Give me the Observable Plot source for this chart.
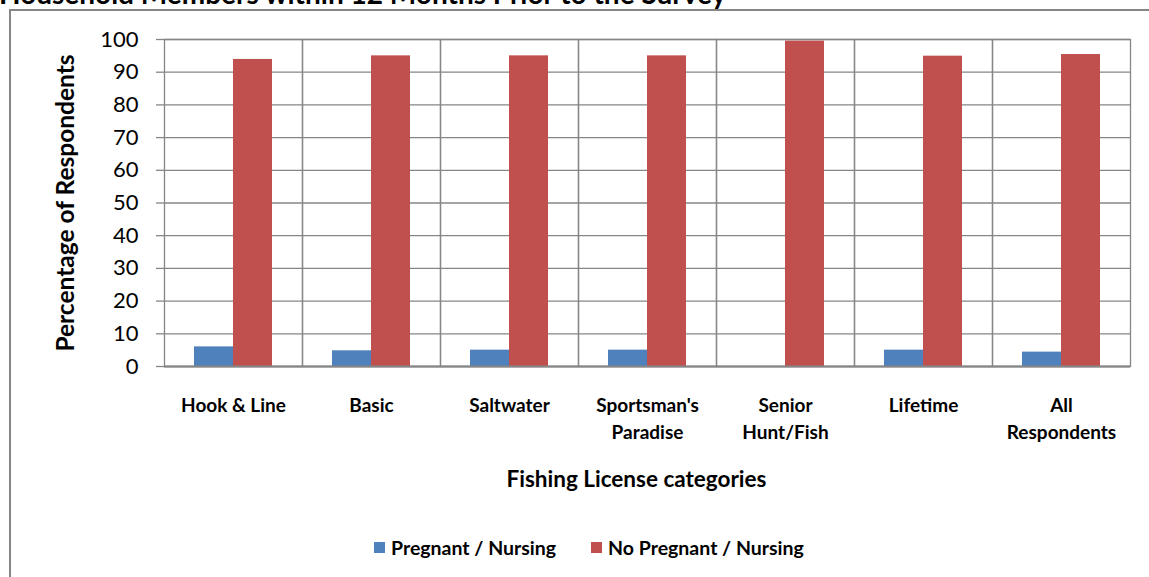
<!DOCTYPE html>
<html>
<head>
<meta charset="utf-8">
<script src="https://cdn.jsdelivr.net/npm/d3@7"></script>
<script src="https://cdn.jsdelivr.net/npm/@observablehq/plot@0.6"></script>
<style>
  html, body { margin: 0; padding: 0; background: #fff; }
  #wrap { position: relative; width: 1149px; height: 577px; overflow: hidden; background: #fff; font-family: Lato, "Open Sans", sans-serif; }
  #title { position: absolute; left: -1px; top: -24px; font-size: 28px; font-weight: bold; color: #000; white-space: nowrap; }
  #border { position: absolute; left: 9px; top: 9px; width: 1160px; height: 620px; border: 2px solid #868686; box-sizing: border-box; }
  #chart { position: absolute; left: 0; top: 0; }
  #legend { position: absolute; left: 374px; top: 531px; }
  .lg-swatch { margin-right: 35px !important; }
  .lg-swatch > svg { margin-right: 6px !important; }
</style>
</head>
<body>
<div id="wrap">
  <div id="title">Household Members within 12 Months Prior to the Survey</div>
  <div id="border"></div>
  <div id="chart"></div>
  <div id="legend"></div>
</div>
<script>
const categories = ["Hook & Line", "Basic", "Saltwater", "Sportsman's\nParadise", "Senior\nHunt/Fish", "Lifetime", "All\nRespondents"];
const series = ["Pregnant / Nursing", "No Pregnant / Nursing"];
const pregnant = [6.0, 4.8, 5.0, 5.0, 0, 5.0, 4.4];
const notPregnant = [93.9, 95.0, 95.0, 95.0, 99.5, 94.9, 95.4];
const yTicks = [0, 10, 20, 30, 40, 50, 60, 70, 80, 90, 100];
const colors = ["#4F81BD", "#C0504D"];
const yLabel = "Percentage of Respondents";
const xLabel = "Fishing License categories";

const data = categories.flatMap((c, i) => [
  {category: c, series: series[0], value: pregnant[i]},
  {category: c, series: series[1], value: notPregnant[i]}
]);

const grid = "#868686";

const chart = Plot.plot({
  width: 1149,
  height: 500,
  marginTop: 39,
  marginBottom: 134,
  marginLeft: 161,
  marginRight: 16,
  style: {fontFamily: "Lato, 'Open Sans', sans-serif", background: "transparent", color: "#000", overflow: "visible"},
  fx: {domain: categories, padding: 0, label: null},
  x: {domain: series, paddingInner: 0, paddingOuter: 0.76, axis: null},
  y: {domain: [0, 100], label: null},
  color: {domain: series, range: colors},
  marks: [
    Plot.gridY(yTicks, {stroke: grid, strokeOpacity: 1, strokeWidth: 1.3}),
    Plot.frame({stroke: grid, strokeWidth: 1.3}),
    Plot.barY(data, {fx: "category", x: "series", y: "value", fill: "series"}),
    Plot.ruleY([0], {stroke: grid, strokeWidth: 2}),
    Plot.axisY(yTicks, {tickSize: 8, tickPadding: 18, stroke: grid, strokeOpacity: 1, strokeWidth: 1.3, fontSize: 22, fill: "#000", label: null}),
    Plot.axisFx({anchor: "bottom", tickSize: 0, tickPadding: 26, fontSize: 19, fontWeight: "bold", lineHeight: 1.42, fill: "#000", label: null}),
    Plot.text([yLabel], {fx: () => categories[0], text: d => d, frameAnchor: "left", textAnchor: "middle", dx: -98, rotate: -90, fontSize: 24.5, fontWeight: "bold", fill: "#000"}),
    Plot.text([xLabel], {fx: () => categories[3], text: d => d, frameAnchor: "bottom", textAnchor: "middle", dy: 120, dx: -11, fontSize: 22.5, fontWeight: "bold", fill: "#000"})
  ]
});
document.getElementById("chart").appendChild(chart);

const legend = Plot.legend({
  color: {type: "ordinal", domain: series, range: colors},
  swatchSize: 11,
  className: "lg",
  style: {fontFamily: "Lato, 'Open Sans', sans-serif", fontWeight: "bold", fontSize: "19.5px", color: "#000", background: "transparent"}
});
document.getElementById("legend").appendChild(legend);
</script>
</body>
</html>
